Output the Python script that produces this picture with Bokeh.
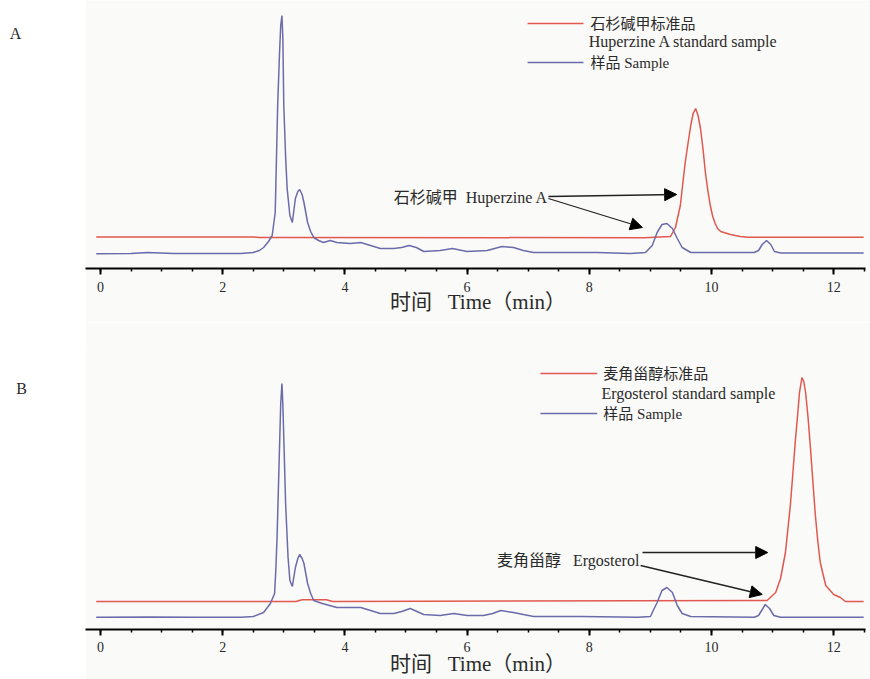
from bokeh.plotting import figure
from bokeh.models import Range1d, SingleIntervalTicker, Label, Arrow, NormalHead
from bokeh.layouts import column, row
from bokeh.embed import file_html
from bokeh.resources import INLINE

# ---------------- data (time in min, detector signal in arbitrary units) ----------------
# Panel A: Huperzine A
A_std_t = [-0.07, 2.5, 2.6, 3.0, 8.9, 9.33, 9.41, 9.49, 9.53, 9.57, 9.62, 9.66, 9.70, 9.74, 9.78,
           9.82, 9.86, 9.90, 9.94, 9.98, 10.02, 10.06, 10.10, 10.15, 10.31, 10.47, 10.6, 12.49]
A_std_s = [31.5, 31.5, 31.0, 31.0, 30.8, 32, 41, 63, 85, 106, 127, 143, 155, 160, 153,
           140, 120, 96, 78, 63, 52, 45, 40, 37, 34, 32, 31.3, 31.3]

A_smp_t = [-0.07, 0.5, 0.77, 1.2, 1.8, 2.3, 2.5, 2.6, 2.67, 2.75, 2.81, 2.86, 2.88, 2.90, 2.93,
           2.95, 2.97, 2.985, 3.0, 3.03, 3.055, 3.1, 3.14, 3.19, 3.23, 3.26, 3.3, 3.33, 3.39,
           3.44, 3.49, 3.57, 3.65, 3.76, 3.87, 4.09, 4.26, 4.42, 4.58, 4.8, 4.93, 5.05, 5.17,
           5.29, 5.56, 5.76, 6.0, 6.33, 6.45, 6.57, 6.76, 6.92, 7.09, 7.58, 8.13, 8.67, 8.92,
           9.03, 9.11, 9.19, 9.27, 9.36, 9.44, 9.52, 9.66, 10.15, 10.7, 10.77, 10.83, 10.9,
           10.97, 11.03, 11.13, 12.49]
A_smp_s = [14.7, 15, 16, 15, 15, 15, 16, 18, 21, 27, 33, 56, 110, 163, 215,
           243, 253, 230, 163, 112, 80, 53, 46, 70, 77, 79, 74, 66, 46,
           37, 31, 28, 26, 28, 26, 25, 26, 23, 20, 20, 21, 23, 21,
           17, 18, 20, 17, 18, 20, 22, 21, 18, 16, 16, 16, 15, 16,
           23, 36, 44, 45, 40, 30, 21, 16, 16, 16, 18, 24, 28,
           24, 17, 15.5, 15.5]

# Panel B: Ergosterol
B_std_t = [-0.07, 3.2, 3.3, 3.7, 3.8, 10.91, 11.05, 11.13, 11.21, 11.29, 11.33, 11.37, 11.41,
           11.44, 11.48, 11.51, 11.54, 11.58, 11.62, 11.66, 11.7, 11.74, 11.78, 11.83, 11.87,
           12.0, 12.11, 12.19, 12.49]
B_std_s = [28, 28, 29.7, 29.7, 28, 29, 37, 51, 77, 124, 155, 187, 215,
           237, 252, 248, 237, 212, 181, 147, 114, 88, 67, 54, 44,
           35, 32, 28, 28]

B_smp_t = [-0.07, 0.8, 1.6, 2.3, 2.5, 2.67, 2.78, 2.85, 2.87, 2.89, 2.92, 2.95, 2.97, 2.985,
           3.0, 3.03, 3.07, 3.1, 3.14, 3.19, 3.23, 3.26, 3.3, 3.33, 3.39, 3.44, 3.49, 3.63,
           3.87, 4.26, 4.42, 4.58, 4.8, 4.93, 5.07, 5.18, 5.29, 5.56, 5.78, 6.0, 6.27, 6.42,
           6.55, 6.76, 6.92, 7.09, 7.86, 8.8, 9.0, 9.11, 9.19, 9.27, 9.36, 9.44, 9.52, 9.66,
           10.7, 10.77, 10.83, 10.88, 10.95, 11.02, 11.13, 12.49]
B_smp_s = [12.3, 12.5, 12.3, 12.3, 13, 17, 26, 36, 60, 92, 159, 226, 246, 225,
           192, 126, 72, 49, 43, 62, 71, 75, 71, 66, 46, 36, 29, 26,
           22, 22, 19, 16, 16, 18, 21, 18, 15, 14, 16, 14, 14, 16,
           19, 17, 15, 13, 13, 12.3, 13, 27, 39, 42, 37, 24, 16, 13,
           12.3, 14, 20, 25, 21, 14, 12.3, 12.3]

X_TICK_STEP = 2
X_LABEL = "时间\u2002 Time（min）"

RED = "#e2584f"
BLUE = "#6b6bab"
TXT = "#2a2a2a"
BG = "#fafaf8"
SERIF = "Liberation Serif, Noto Sans CJK SC"

STRIP_W = 85
X_START, X_END = -0.245, 12.602
AX_END = 12.52


def label(p, x, y, text, size="15px", align="left"):
    p.add_layout(Label(x=x, y=y, text=text, text_font=SERIF, text_font_size=size,
                       text_color=TXT, text_baseline="middle", text_align=align))


def make_strip(height, ymax, top, bottom, letter, lx, ly):
    s = figure(width=STRIP_W, height=height, x_range=Range1d(0, STRIP_W), y_range=Range1d(0, ymax),
               min_border_left=0, min_border_right=0, min_border_top=top, min_border_bottom=bottom,
               output_backend="svg", toolbar_location=None,
               x_axis_location=None, y_axis_location=None)
    s.background_fill_color = "white"
    s.border_fill_color = "white"
    s.outline_line_color = None
    s.xgrid.visible = False
    s.ygrid.visible = False
    label(s, lx, ly, letter, size="16px", align="center")
    return s


def make_panel(height, ymax, top, bottom, lab_off, title_off, std_t, std_s, smp_t, smp_s):
    p = figure(width=870 - STRIP_W, height=height,
               x_range=Range1d(X_START, X_END), y_range=Range1d(0, ymax),
               min_border_left=0, min_border_right=0,
               min_border_top=top, min_border_bottom=bottom,
               output_backend="svg", toolbar_location=None,
               y_axis_location=None)
    p.background_fill_color = BG
    p.border_fill_color = BG
    p.outline_line_color = None
    p.xgrid.visible = False
    p.ygrid.visible = False
    ax = p.xaxis[0]
    ax.bounds = (X_START, AX_END)
    ax.ticker = SingleIntervalTicker(interval=X_TICK_STEP, num_minor_ticks=4)
    ax.axis_line_width = 2
    ax.axis_line_color = "black"
    ax.major_tick_in = 0
    ax.major_tick_out = 6
    ax.major_tick_line_width = 2
    ax.minor_tick_in = 0
    ax.minor_tick_out = 3
    ax.minor_tick_line_width = 1.5
    ax.major_label_text_font = SERIF
    ax.major_label_text_font_size = "14px"
    ax.major_label_text_color = TXT
    ax.major_label_standoff = lab_off
    ax.axis_label = X_LABEL
    ax.axis_label_text_font = SERIF
    ax.axis_label_text_font_size = "21px"
    ax.axis_label_text_font_style = "normal"
    ax.axis_label_text_color = TXT
    ax.axis_label_standoff = title_off
    p.line(std_t, std_s, line_color=RED, line_width=1.5)
    p.line(smp_t, smp_s, line_color=BLUE, line_width=1.5)
    return p


def legend(p, x0, x1, xt, y_red, y_red2, y_blue, name_cn, name_en):
    p.segment(x0=[x0], y0=[y_red], x1=[x1], y1=[y_red], line_color=RED, line_width=1.5)
    p.segment(x0=[x0], y0=[y_blue], x1=[x1], y1=[y_blue], line_color=BLUE, line_width=1.5)
    label(p, xt, y_red, name_cn)
    label(p, xt - 0.03, y_red2, name_en, size="16px")
    label(p, xt, y_blue, "样品 Sample")


def arrow(p, xs, ys, xe, ye):
    p.add_layout(Arrow(end=NormalHead(size=12, fill_color="black", line_color="black"),
                       x_start=xs, y_start=ys, x_end=xe, y_end=ye,
                       line_color="#222222", line_width=1.3))


HA, HB = 322, 357

pA = make_panel(HA, 258, 10, 54, 7, -5, A_std_t, A_std_s, A_smp_t, A_smp_s)
legend(pA, 6.99, 7.905, 8.02, 245, 227, 206, "石杉碱甲标准品", "Huperzine A standard sample")
label(pA, 4.8, 71, "石杉碱甲\u2002Huperzine A", size="16px")
arrow(pA, 7.33, 72, 9.43, 74)
arrow(pA, 7.33, 70, 8.87, 41)
sA = make_strip(HA, 258, 10, 54, "A", 15, 235.3)

pB = make_panel(HB, 281, 26, 50, 6, -3, B_std_t, B_std_s, B_smp_t, B_smp_s)
legend(pB, 7.2, 8.13, 8.23, 256, 236, 216, "麦角甾醇标准品", "Ergosterol standard sample")
label(pB, 6.49, 69, "麦角甾醇\u2002 Ergosterol", size="16px")
arrow(pB, 8.87, 77, 10.92, 77)
arrow(pB, 8.84, 64, 10.83, 35)
sB = make_strip(HB, 281, 26, 50, "B", 21, 241)

layout = column(row(sA, pA, spacing=0), row(sB, pB, spacing=0), spacing=0)
open("out.html", "w").write(file_html(layout, INLINE))
